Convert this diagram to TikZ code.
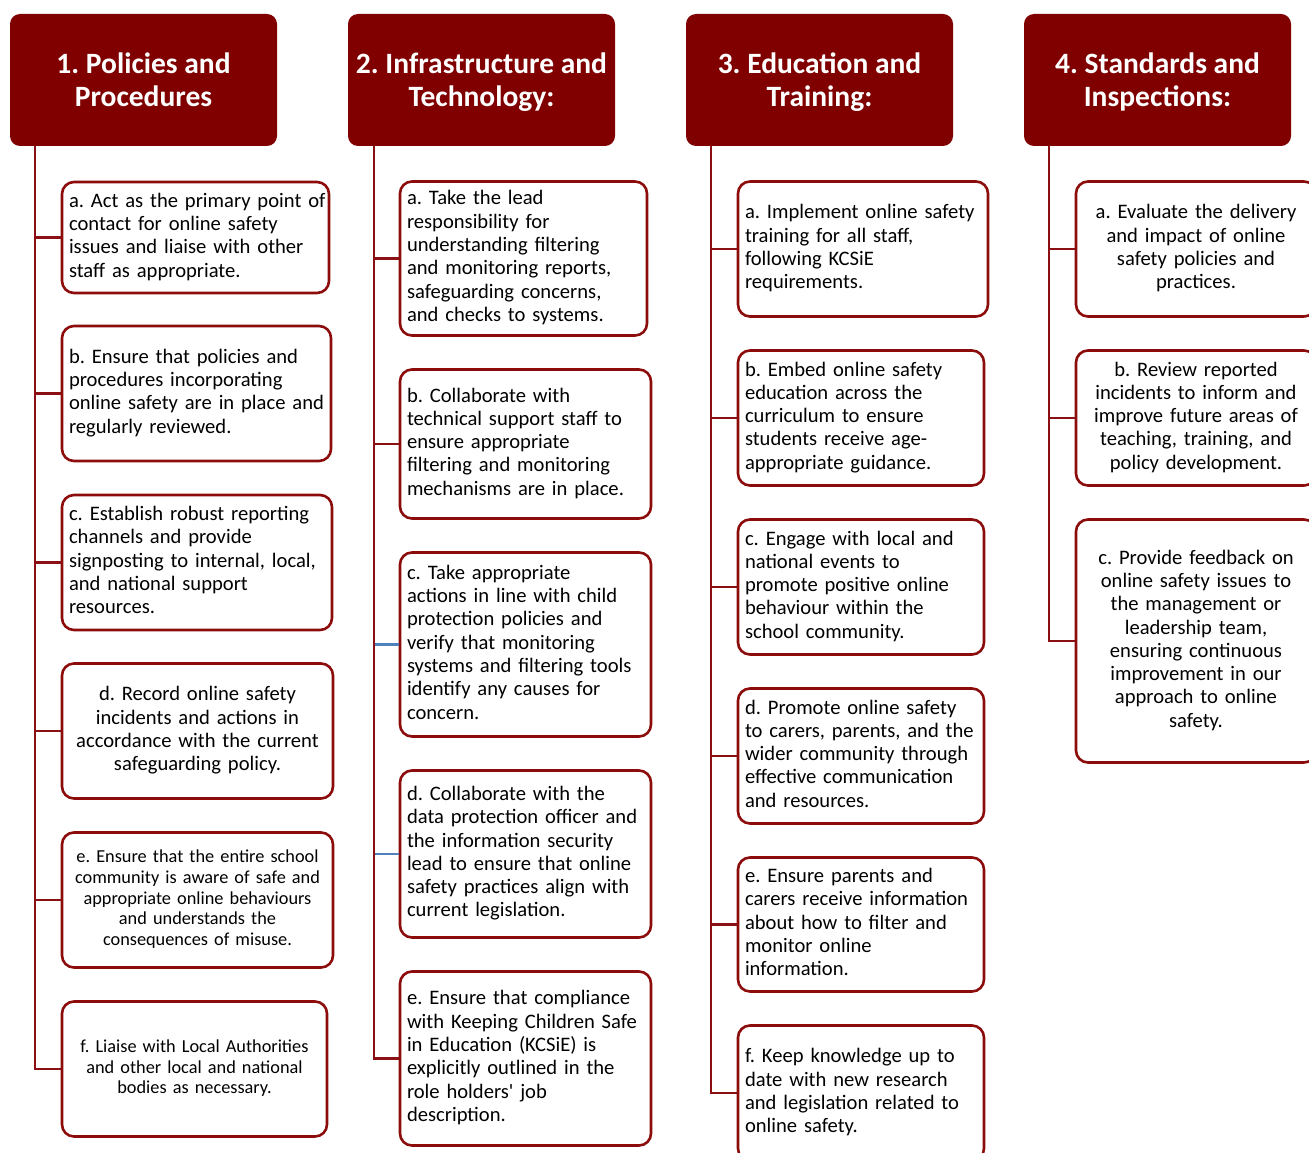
\documentclass[tikz,border=0pt]{standalone}
\usepackage{fontspec}
\setmainfont{Carlito}
\frenchspacing
\definecolor{headfill}{RGB}{128,0,0}
\definecolor{edgered}{RGB}{140,12,12}
\definecolor{stemred}{RGB}{138,16,20}
\definecolor{steel}{RGB}{79,129,189}

\tikzset{
  head/.style={fill=headfill, draw=none, rounded corners=10pt,
    minimum width=267pt, minimum height=132pt, inner sep=0pt,
    text=white, align=center, font=\fontsize{29.5}{33}\selectfont\bfseries},
  leaf/.style={draw=edgered, line width=2.6pt, rounded corners=12pt, fill=white,
    inner xsep=7pt, inner ysep=0pt, font=\fontsize{20.6}{23.3}\selectfont},
  leafsm/.style={leaf, font=\fontsize{18.3}{20.8}\selectfont},
  conn/.style={draw=stemred, line width=2.6pt},
  blueconn/.style={draw=steel, line width=2.8pt},
}
% one unbreakable block of lines, left or centred
\newcommand{\lrows}[1]{\noindent\begin{tabular}{@{}l@{}}#1\end{tabular}}
\newcommand{\crows}[1]{\begin{tabular}{@{}c@{}}#1\end{tabular}}
% header title: two centred lines, set a little low in the box
\newcommand{\htitle}[2]{\begin{tabular}{@{}c@{}}\rule{0pt}{29.6pt}#1\\#2\end{tabular}}

\begin{document}
\begin{tikzpicture}[x=1pt,y=-1pt]
\useasboundingbox (0,0) rectangle (1309,1153);
\clip (0,0) rectangle (1309,1153);
\fill[white] (0,0) rectangle (1309,1153);

% ---------- headers ----------
\node[head] (h1) at (143.5,80) {\htitle{1. Policies and}{Procedures}};
\node[head] (h2) at (481.5,80) {\htitle{2. Infrastructure and}{Technology:}};
\node[head] (h3) at (819.5,80) {\htitle{3. Education and}{Training:}};
\node[head] (h4) at (1157.5,80) {\htitle{4. Standards and}{Inspections:}};

\coordinate (t1) at ([xshift=25pt]h1.south west);
\coordinate (t2) at ([xshift=26pt]h2.south west);
\coordinate (t3) at ([xshift=25pt]h3.south west);
\coordinate (t4) at ([xshift=25pt]h4.south west);

% ---------- column 1 ----------
\node[leaf, minimum width=267pt, minimum height=111pt, text width=253pt, align=left] (p1a) at (195.5,237.5)
  {\lrows{a. Act as the primary point of\\contact for online safety\\issues and liaise with other\\staff as appropriate.}};
\node[leaf, minimum width=269pt, minimum height=135pt, text width=255pt, align=left] (p1b) at (196.5,393.5)
  {\lrows{b. Ensure that policies and\\procedures incorporating\\online safety are in place and\\regularly reviewed.}};
\node[leaf, minimum width=270pt, minimum height=135pt, text width=256pt, align=left] (p1c) at (197,562.5)
  {\lrows{c. Establish robust reporting\\channels and provide\\signposting to internal, local,\\and national support\\resources.}};
\node[leaf, minimum width=271pt, minimum height=135pt, text width=257pt, align=center] (p1d) at (197.5,731)
  {\crows{d. Record online safety\\incidents and actions in\\accordance with the current\\safeguarding policy.}};
\node[leafsm, minimum width=271pt, minimum height=135pt, text width=257pt, align=center] (p1e) at (197.5,900)
  {\crows{e. Ensure that the entire school\\community is aware of safe and\\appropriate online behaviours\\and understands the\\consequences of misuse.}};
\node[leafsm, minimum width=265pt, minimum height=135pt, text width=251pt, align=center] (p1f) at (194.5,1069)
  {\crows{f. Liaise with Local Authorities\\and other local and national\\bodies as necessary.}};

\draw[conn] (t1) |- (p1f.west);
\foreach \n in {p1a,p1b,p1c,p1d,p1e}
  \draw[conn] (\n.west -| t1) -- (\n.west);

% ---------- column 2 ----------
\node[leaf, minimum width=247pt, minimum height=154pt, text width=233pt, align=left] (p2a) at (523.5,258.5)
  {\lrows{a. Take the lead\\responsibility for\\understanding filtering\\and monitoring reports,\\safeguarding concerns,\\and checks to systems.}};
\node[leaf, minimum width=251pt, minimum height=149pt, text width=237pt, align=left] (p2b) at (525.5,444)
  {\lrows{b. Collaborate with\\technical support staff to\\ensure appropriate\\filtering and monitoring\\mechanisms are in place.}};
\node[leaf, minimum width=251pt, minimum height=184pt, text width=237pt, align=left] (p2c) at (525.5,644.5)
  {\lrows{c. Take appropriate\\actions in line with child\\protection policies and\\verify that monitoring\\systems and filtering tools\\identify any causes for\\concern.}};
\node[leaf, minimum width=251pt, minimum height=167pt, text width=237pt, align=left] (p2d) at (525.5,854)
  {\lrows{d. Collaborate with the\\data protection officer and\\the information security\\lead to ensure that online\\safety practices align with\\current legislation.}};
\node[leaf, minimum width=251pt, minimum height=174pt, text width=237pt, align=left] (p2e) at (525.5,1058.5)
  {\lrows{e. Ensure that compliance\\with Keeping Children Safe\\in Education (KCSiE) is\\explicitly outlined in the\\role holders\textquotesingle{} job\\description.}};

\draw[conn] (t2) |- (p2e.west);
\foreach \n in {p2a,p2b}
  \draw[conn] (\n.west -| t2) -- (\n.west);
\foreach \n in {p2c,p2d}
  \draw[blueconn] ([xshift=1.3pt]\n.west -| t2) -- (\n.west);

% ---------- column 3 ----------
\node[leaf, minimum width=250pt, minimum height=135pt, text width=236pt, align=left] (p3a) at (863,249)
  {\lrows{a. Implement online safety\\training for all staff,\\following KCSiE\\requirements.}};
\node[leaf, minimum width=246pt, minimum height=135pt, text width=232pt, align=left] (p3b) at (861,418)
  {\lrows{b. Embed online safety\\education across the\\curriculum to ensure\\students receive age-\\appropriate guidance.}};
\node[leaf, minimum width=246pt, minimum height=135pt, text width=232pt, align=left] (p3c) at (861,587)
  {\lrows{c. Engage with local and\\national events to\\promote positive online\\behaviour within the\\school community.}};
\node[leaf, minimum width=246pt, minimum height=135pt, text width=232pt, align=left] (p3d) at (861,756)
  {\lrows{d. Promote online safety\\to carers, parents, and the\\wider community through\\effective communication\\and resources.}};
\node[leaf, minimum width=246pt, minimum height=134pt, text width=232pt, align=left] (p3e) at (861,924.5)
  {\lrows{e. Ensure parents and\\carers receive information\\about how to filter and\\monitor online\\information.}};
\node[leaf, minimum width=246pt, minimum height=135pt, text width=232pt, align=left] (p3f) at (861,1093)
  {\lrows{f. Keep knowledge up to\\date with new research\\and legislation related to\\online safety.}};

\draw[conn] (t3) |- (p3f.west);
\foreach \n in {p3a,p3b,p3c,p3d,p3e}
  \draw[conn] (\n.west -| t3) -- (\n.west);

% ---------- column 4 ----------
\node[leaf, minimum width=240pt, minimum height=135pt, text width=226pt, align=center] (p4a) at (1196,249)
  {\crows{a. Evaluate the delivery\\and impact of online\\safety policies and\\practices.}};
\node[leaf, minimum width=240pt, minimum height=135pt, text width=226pt, align=center] (p4b) at (1196,418)
  {\crows{b. Review reported\\incidents to inform and\\improve future areas of\\teaching, training, and\\policy development.}};
\node[leaf, minimum width=240pt, minimum height=243pt, text width=226pt, align=center] (p4c) at (1196,641)
  {\crows{c. Provide feedback on\\online safety issues to\\the management or\\leadership team,\\ensuring continuous\\improvement in our\\approach to online\\safety.}};

\draw[conn] (t4) |- (p4c.west);
\foreach \n in {p4a,p4b}
  \draw[conn] (\n.west -| t4) -- (\n.west);
\end{tikzpicture}
\end{document}
